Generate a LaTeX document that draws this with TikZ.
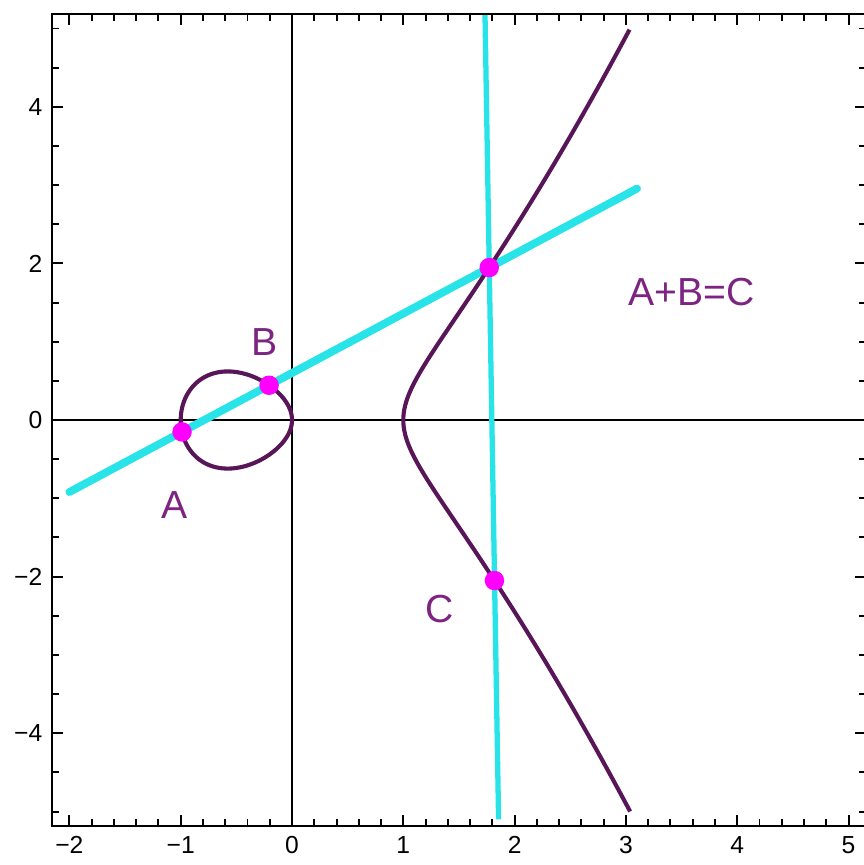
\documentclass[tikz,border=0pt]{standalone}
\usepackage{fontspec}
\setmainfont{Liberation Sans}
\definecolor{curvepurple}{RGB}{88,22,88}
\definecolor{labelpurple}{RGB}{125,35,130}
\definecolor{chordcyan}{RGB}{40,228,232}
\definecolor{ptmagenta}{RGB}{255,0,255}
\begin{document}
\begin{tikzpicture}[x=1cm, y=0.7035cm,
  curve/.style={curvepurple, line width=1.05pt},
  chord/.style={chordcyan, line width=2pt, line cap=round},
  vchord/.style={chordcyan, line width=1.35pt},
  dot/.style={circle, fill=ptmagenta, inner sep=0pt, minimum size=1.75mm},
  lbl/.style={labelpurple, inner sep=0pt, font=\fontsize{10}{12}\selectfont},
  tickmark/.style={line width=0.5pt},
  ticklbl/.style={inner sep=0pt, font=\fontsize{6.3}{7}\selectfont}]
  \useasboundingbox (-2.6236,-5.683) rectangle (5.139,5.364);

  \coordinate (SW) at (-2.158,-5.19);
  \coordinate (NE) at (5.16,5.19);
  \coordinate (xL) at (-2.158,0);
  \coordinate (xR) at (5.16,0);
  \coordinate (yT) at (0,5.19);
  \coordinate (yB) at (0,-5.19);

  \foreach \k in {-10,...,25} {
    \draw[tickmark] (\k/5,-5.19) -- ++(0,0.63mm);
    \draw[tickmark] (\k/5,5.19) -- ++(0,-0.63mm);
  }
  \foreach \k in {-2,...,5} {
    \draw[tickmark] (\k,-5.19) -- ++(0,1mm);
    \draw[tickmark] (\k,5.19) -- ++(0,-1mm);
  }
  \foreach \k in {-10,...,10} {
    \draw[tickmark] (-2.158,\k/2) -- ++(0.63mm,0);
    \draw[tickmark] (5.16,\k/2) -- ++(-0.63mm,0);
  }
  \foreach \k in {-4,-2,2,4} {
    \draw[tickmark] (-2.158,\k) -- ++(1mm,0);
    \draw[tickmark] (5.16,\k) -- ++(-1mm,0);
  }
  \foreach \k/\t [count=\n] in {-2/−2,-1/−1,0/0,1/1,2/2,3/3,4/4,5/5}
    \node[ticklbl] (xt\n) at (\k,-5.43) {\t};
  \foreach \k/\t [count=\n] in {4/4,2/2,0/0,-2/−2,-4/−4}
    \node[ticklbl, anchor=east] (yt\n) at (-2.237,\k) {\t};

  \draw[line width=0.55pt] (SW) rectangle (NE);
  \draw[line width=0.4pt] (xL) -- (xR);
  \draw[line width=0.4pt] (yT) -- (yB);

  \coordinate (L1) at (-2,-0.92);
  \coordinate (L2) at (3.1,2.956);
  \coordinate (V1) at (1.734,5.17);
  \coordinate (V2) at (1.856,-5.1);
  \draw[chord] (L1) -- (L2);
  \draw[vchord] (V1) -- (V2);

  \draw[curve] plot[domain=0:360, samples=180] ({-(1-cos(\x))/2}, {sin(\x)/2*sqrt(1+(1-cos(\x))/2)}) -- cycle;
  \draw[curve] plot[domain=-1.4275:1.4275, samples=160, variable=\t] ({1+\t*\t}, {\t*sqrt((1+\t*\t)*(2+\t*\t))});

  \node[dot] (A) at (-0.988,-0.152) {};
  \node[dot] (B) at (-0.206,0.444) {};
  \node[dot] (P) at (1.772,1.947) {};
  \node[dot] (C) at (1.819,-2.05) {};

  \node[lbl] (labA) at (-1.056,-1.086) {A};
  \node[lbl] (labB) at (-0.243,0.99) {B};
  \node[lbl] (labC) at (1.325,-2.42) {C};
  \node[lbl] (sum) at (3.59,1.635) {A+B=C};
\end{tikzpicture}
\end{document}
